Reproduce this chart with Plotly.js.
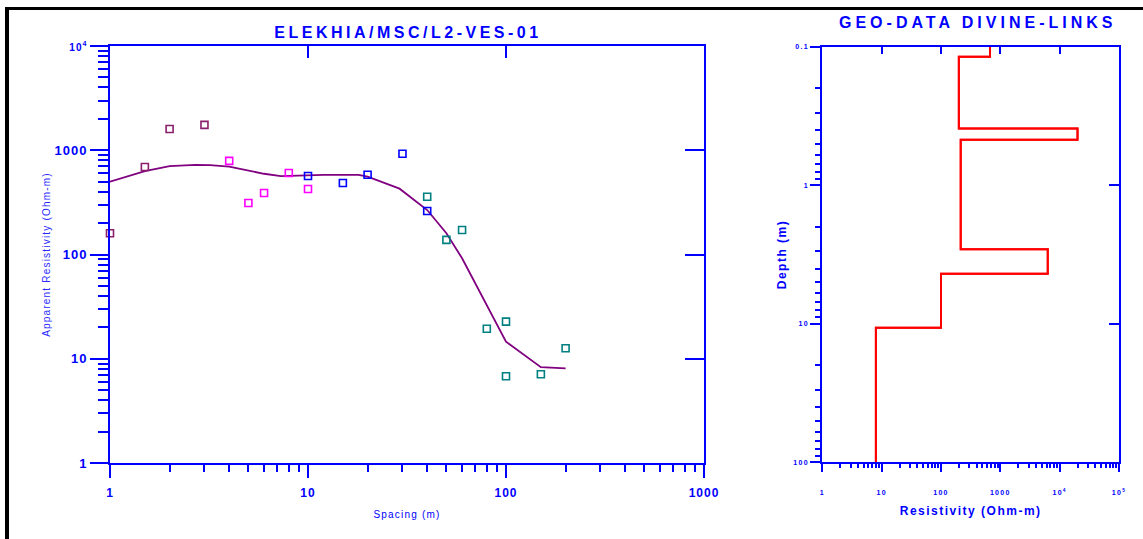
<!DOCTYPE html>
<html>
<head>
<meta charset="utf-8">
<script src="https://cdn.plot.ly/plotly-3.0.1.min.js"></script>
<style>
body{margin:0;background:#fff;}
#chart{width:1143px;height:539px;}
#chart .gtitle{letter-spacing:3.5px;}
#chart .annotation-text{letter-spacing:4px;}
#chart .xtitle,#chart .ytitle{letter-spacing:1.2px;}
#chart .x2title,#chart .y2title{letter-spacing:1.5px;}
#chart .xtick text,#chart .ytick text{letter-spacing:1px;}
#chart .x2tick text,#chart .y2tick text{letter-spacing:1.3px;}
</style>
</head>
<body>
<div id="chart"></div>
<script>
// ---- Field data (apparent resistivity vs spacing), four segments ----
const spacingA = [1, 1.5, 2, 3];
const rhoA     = [160, 690, 1600, 1750];
const spacingB = [4, 5, 6, 8, 10];
const rhoB     = [790, 312, 389, 605, 425];
const spacingC = [10, 15, 20, 30, 40];
const rhoC     = [566, 485, 583, 927, 261];
const spacingD = [40, 50, 60, 80, 100, 100, 150, 200];
const rhoD     = [358, 138, 172, 19.4, 22.7, 6.8, 7.1, 12.6];

// ---- Model (fitted) curve ----
const fitSpacing = [1, 1.5, 2, 2.7, 3.2, 4, 6, 7.3, 12, 18, 20, 29, 40, 50, 60, 70, 100, 150, 200];
const fitRho     = [500, 630, 705, 725, 720, 695, 595, 565, 580, 580, 557, 428, 267, 160, 92, 53, 14.6, 8.3, 8.1];

// ---- Layered model ----
const layerRho    = [670, 200, 20000, 215, 6300, 100, 8];
const layerBottom = [0.118, 0.39, 0.47, 2.9, 4.35, 10.7];
const depthTop = 0.1, depthEnd = 100;

// ---- Tick labels ----
const leftXTicks  = [1, 10, 100, 1000];
const leftXText   = ['1', '10', '100', '1000'];
const leftYTicks  = [1, 10, 100, 1000, 10000];
const leftYText   = ['1', '10', '100', '1000', '<span style="font-size:10px">10<sup>4</sup></span>'];
const rightXTicks = [1, 10, 100, 1000, 10000, 100000];
const rightXText  = ['1', '10', '100', '1000', '10<sup>4</sup>', '10<sup>5</sup>'];
const rightYTicks = [0.1, 1, 10, 100];
const rightYText  = ['0.1', '1', '10', '100'];

function minorVals(lo, hi) {
  const v = [];
  for (let e = lo; e < hi; e++) for (let k = 2; k <= 9; k++) v.push(k * Math.pow(10, e));
  return v;
}

// step line of layered model
const stepX = [layerRho[0]], stepY = [depthTop];
for (let i = 0; i < layerBottom.length; i++) {
  stepX.push(layerRho[i]); stepY.push(layerBottom[i]);
  stepX.push(layerRho[i + 1]); stepY.push(layerBottom[i]);
}
stepX.push(layerRho[layerRho.length - 1]); stepY.push(depthEnd);

const BLUE = '#0000ff';
const FONT = 'Liberation Sans, Arial, sans-serif';

function pts(x, y, color) {
  return {x: x, y: y, type: 'scatter', mode: 'markers', xaxis: 'x3', yaxis: 'y3', cliponaxis: false,
    marker: {symbol: 'square-open', size: 7, color: color, line: {width: 1.6, color: color}},
    showlegend: false, hoverinfo: 'x+y'};
}

const data = [
  {x: fitSpacing, y: fitRho, type: 'scatter', mode: 'lines', xaxis: 'x', yaxis: 'y',
   line: {color: '#800080', width: 1.8}, showlegend: false},
  pts(spacingA, rhoA, '#8a1f6c'),
  pts(spacingB, rhoB, '#ff00ff'),
  pts(spacingC, rhoC, '#0000ff'),
  pts(spacingD, rhoD, '#008080'),
  {x: stepX, y: stepY, type: 'scatter', mode: 'lines', xaxis: 'x2', yaxis: 'y2',
   line: {color: '#ff0000', width: 2}, showlegend: false},
  {x: stepX, y: stepY, type: 'scatter', mode: 'lines', xaxis: 'x4', yaxis: 'y4',
   line: {color: '#ff0000', width: 2}, showlegend: false}
];

const axBase = {showgrid: false, zeroline: false, showline: true, linecolor: BLUE, linewidth: 2,
  tickcolor: BLUE, tickwidth: 2, tickmode: 'array'};

const layout = {
  width: 1143, height: 539,
  margin: {l: 0, r: 0, t: 0, b: 0},
  paper_bgcolor: '#ffffff', plot_bgcolor: '#ffffff',
  showlegend: false,
  title: {text: 'ELEKHIA/MSC/L2-VES-01', x: 408 / 1143, y: 1 - 32 / 539, xanchor: 'center', yanchor: 'middle',
    font: {family: FONT, size: 16, weight: 'bold', color: BLUE}},
  xaxis: Object.assign({}, axBase, {
    type: 'log', range: [0, 3], domain: [110 / 1143, 704 / 1143], anchor: 'y',
    ticks: 'outside', ticklen: 13, tickvals: leftXTicks, ticktext: leftXText,
    ticklabelstandoff: 5,
    tickfont: {family: FONT, size: 12, weight: 'bold', color: BLUE},
    minor: {ticks: 'outside', ticklen: 7, tickwidth: 2, tickcolor: BLUE, tickmode: 'array', tickvals: minorVals(0, 3)},
    title: {text: 'Spacing (m)', standoff: 12, font: {family: FONT, size: 10, color: BLUE}}
  }),
  yaxis: Object.assign({}, axBase, {
    type: 'log', range: [0, 4], domain: [(539 - 463) / 539, (539 - 46) / 539], anchor: 'x',
    ticks: 'outside', ticklen: 18, tickvals: leftYTicks, ticktext: leftYText,
    tickfont: {family: FONT, size: 13, weight: 'bold', color: BLUE},
    minor: {ticks: 'outside', ticklen: 10, tickwidth: 2, tickcolor: BLUE, tickmode: 'array', tickvals: minorVals(0, 4)},
    title: {text: 'Apparent Resistivity (Ohm-m)', standoff: 6, font: {family: FONT, size: 10, color: '#2a2aff'}}
  }),
  xaxis3: Object.assign({}, axBase, {
    type: 'log', range: [0, 3], overlaying: 'x', anchor: 'y', side: 'top',
    ticks: 'inside', ticklen: 12, tickvals: [10, 100], showticklabels: false
  }),
  yaxis3: Object.assign({}, axBase, {
    type: 'log', range: [0, 4], overlaying: 'y', anchor: 'x', side: 'right',
    ticks: 'inside', ticklen: 19, tickvals: [10, 100, 1000], showticklabels: false
  }),
  xaxis2: Object.assign({}, axBase, {
    type: 'log', range: [0, 5], domain: [822.3 / 1143, 1119 / 1143], anchor: 'y2',
    ticks: 'outside', ticklen: 8, tickvals: rightXTicks, ticktext: rightXText,
    ticklabelstandoff: 14,
    tickfont: {family: FONT, size: 7, weight: 'bold', color: BLUE},
    minor: {ticks: 'outside', ticklen: 4, tickwidth: 2, tickcolor: BLUE, tickmode: 'array', tickvals: minorVals(0, 5)},
    title: {text: 'Resistivity (Ohm-m)', standoff: 12, font: {family: FONT, size: 12, weight: 'bold', color: BLUE}}
  }),
  yaxis2: Object.assign({}, axBase, {
    type: 'log', range: [2, -1], domain: [(539 - 462.3) / 539, (539 - 46.7) / 539], anchor: 'x2',
    ticks: 'outside', ticklen: 10, tickvals: rightYTicks, ticktext: rightYText,
    tickfont: {family: FONT, size: 7, weight: 'bold', color: BLUE},
    minor: {ticks: 'outside', ticklen: 5, tickwidth: 2, tickcolor: BLUE, tickmode: 'array', tickvals: minorVals(-1, 2)},
    title: {text: 'Depth (m)', standoff: 8, font: {family: FONT, size: 12, weight: 'bold', color: BLUE}}
  }),
  xaxis4: Object.assign({}, axBase, {
    type: 'log', range: [0, 5], overlaying: 'x2', anchor: 'y2', side: 'top',
    ticks: 'inside', ticklen: 7, tickvals: [10, 100, 1000, 10000], showticklabels: false
  }),
  yaxis4: Object.assign({}, axBase, {
    type: 'log', range: [2, -1], overlaying: 'y2', anchor: 'x2', side: 'right',
    ticks: 'inside', ticklen: 10, tickvals: [1, 10], showticklabels: false
  }),
  annotations: [
    {text: 'GEO-DATA DIVINE-LINKS', xref: 'paper', yref: 'paper', x: 978 / 1143, y: 1 - 22 / 539,
     xanchor: 'center', yanchor: 'middle', showarrow: false,
     font: {family: FONT, size: 16, weight: 'bold', color: BLUE}}
  ],
  shapes: [
    {type: 'line', xref: 'paper', yref: 'paper', x0: 5 / 1143, x1: 1, y0: 1 - 8.5 / 539, y1: 1 - 8.5 / 539,
     line: {color: '#000000', width: 3}},
    {type: 'line', xref: 'paper', yref: 'paper', x0: 7 / 1143, x1: 7 / 1143, y0: 0, y1: 1 - 7 / 539,
     line: {color: '#000000', width: 4}}
  ]
};

Plotly.newPlot('chart', data, layout, {displayModeBar: false, staticPlot: true});
</script>
</body>
</html>
